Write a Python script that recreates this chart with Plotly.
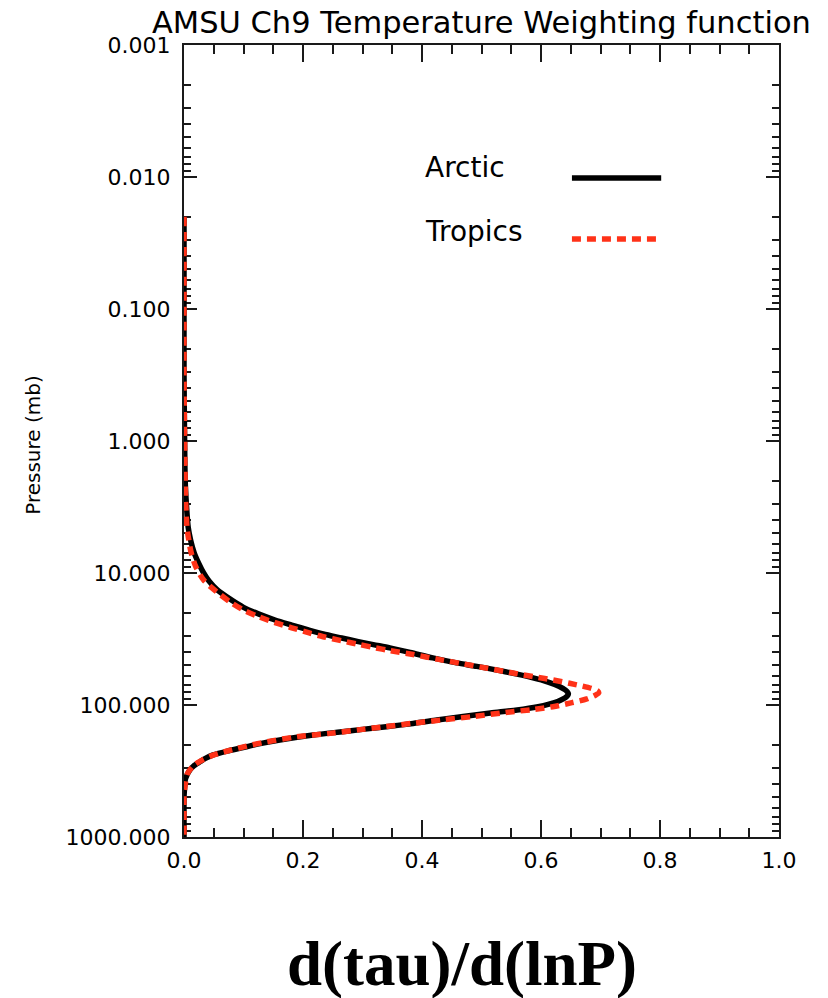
import plotly.graph_objects as go

# Channel 9 temperature weighting functions, d(tau)/d(lnP) versus pressure (mb)
arctic_p = [0.02, 0.05, 0.1, 0.3, 1.0, 2.0, 3.0, 4.5, 5.6, 7.0, 8.5, 10.0, 11.5,
            13.3, 15.7, 18.2, 20.4, 22.7, 24.8, 27.0, 29.0, 31.1, 33.1, 34.9,
            36.9, 40.0, 44.0, 48.0, 51.0, 56.0, 62.0, 67.0, 72.0, 77.0, 82.0,
            88.0, 94.0, 99.0, 103.0, 109.0, 115.0, 122.0, 130.0, 138.0, 146.0,
            153.0, 160.0, 169.0, 184.0, 196.0, 207.0, 222.0, 239.0, 254.0, 269.0,
            290.0, 310.0, 340.0, 370.0, 420.0, 500.0, 650.0, 800.0, 1000.0]
arctic_w = [0.000, 0.000, 0.000, 0.000, 0.001, 0.002, 0.004, 0.007, 0.011, 0.017,
            0.025, 0.033, 0.042, 0.055, 0.077, 0.100, 0.125, 0.153, 0.181, 0.209,
            0.234, 0.265, 0.293, 0.318, 0.346, 0.380, 0.418, 0.458, 0.492, 0.540,
            0.585, 0.612, 0.630, 0.641, 0.646, 0.641, 0.628, 0.612, 0.595, 0.560,
            0.515, 0.469, 0.425, 0.385, 0.340, 0.300, 0.262, 0.217, 0.161, 0.128,
            0.105, 0.075, 0.049, 0.036, 0.027, 0.016, 0.010, 0.005, 0.002, 0.001,
            0.000, 0.000, 0.000, 0.000]

tropics_p = [0.02, 0.05, 0.1, 0.3, 1.0, 2.0, 3.0, 4.5, 5.6, 7.0, 9.0, 11.3, 13.9,
             16.5, 19.1, 21.4, 23.8, 26.0, 28.3, 30.4, 32.6, 34.7, 36.6, 38.7,
             41.5, 45.1, 48.9, 52.7, 57.5, 61.0, 64.6, 68.5, 72.0, 75.0, 78.0,
             81.0, 84.0, 90.0, 96.0, 103.0, 108.0, 114.0, 122.0, 130.0, 138.0,
             146.0, 153.0, 164.0, 174.0, 190.0, 205.0, 219.0, 239.0, 261.0, 285.0,
             330.0, 400.0, 500.0, 650.0, 800.0, 1000.0]
tropics_w = [0.000, 0.000, 0.000, 0.000, 0.001, 0.002, 0.003, 0.005, 0.008, 0.012,
             0.020, 0.033, 0.055, 0.077, 0.100, 0.125, 0.153, 0.181, 0.209, 0.234,
             0.265, 0.293, 0.318, 0.346, 0.385, 0.428, 0.470, 0.510, 0.555, 0.588,
             0.620, 0.648, 0.670, 0.685, 0.695, 0.697, 0.692, 0.677, 0.652, 0.620,
             0.588, 0.540, 0.488, 0.432, 0.382, 0.338, 0.300, 0.245, 0.190, 0.139,
             0.105, 0.080, 0.050, 0.031, 0.017, 0.006, 0.002, 0.000, 0.000, 0.000,
             0.000]

y_tickvals = [0.001, 0.01, 0.1, 1, 10, 100, 1000]
y_ticktext = ["0.001", "0.010", "0.100", "1.000", "10.000", "100.000", "1000.000"]
x_tickvals = [0.0, 0.2, 0.4, 0.6, 0.8, 1.0]
x_ticktext = ["0.0", "0.2", "0.4", "0.6", "0.8", "1.0"]

BLACK = "#000000"
RED = "#ff3218"
AXIS = "#1a1a1a"
SANS = "DejaVu Sans"

fig = go.Figure()
fig.add_trace(go.Scatter(
    x=arctic_w, y=arctic_p, mode="lines", name="Arctic",
    line=dict(color=BLACK, width=5.5, shape="spline", smoothing=0.8),
))
fig.add_trace(go.Scatter(
    x=tropics_w, y=tropics_p, mode="lines", name="Tropics",
    line=dict(color=RED, width=5.5, dash="9px,6px", shape="spline", smoothing=0.8),
))

fig.update_layout(
    width=828, height=998,
    margin=dict(l=184, r=49, t=45, b=161),
    paper_bgcolor="white", plot_bgcolor="white",
    showlegend=False,
    font=dict(family=SANS, color="black"),
    xaxis=dict(
        range=[0, 1], tickvals=x_tickvals, ticktext=x_ticktext,
        ticks="inside", ticklen=17, tickwidth=2, tickcolor=AXIS,
        showline=True, linewidth=2, linecolor=AXIS, mirror="ticks",
        showgrid=False, zeroline=False, layer="below traces",
        tickfont=dict(family=SANS, size=22, color="black"),
        ticklabelstandoff=3,
        minor=dict(dtick=0.05, ticks="inside", ticklen=9, tickwidth=2,
                   tickcolor=AXIS, showgrid=False),
    ),
    yaxis=dict(
        type="log", range=[3, -3], autorange=False,
        tickvals=y_tickvals, ticktext=y_ticktext,
        ticks="inside", ticklen=13, tickwidth=2, tickcolor=AXIS,
        showline=True, linewidth=2, linecolor=AXIS, mirror="ticks",
        showgrid=False, zeroline=False, layer="below traces",
        tickfont=dict(family=SANS, size=22, color="black"),
        ticklabelstandoff=7,
        minor=dict(dtick="D1", ticks="inside", ticklen=7, tickwidth=2,
                   tickcolor=AXIS, showgrid=False),
    ),
)

# Title, axis labels
fig.add_annotation(
    text="AMSU Ch9 Temperature Weighting function",
    xref="paper", yref="paper", x=0.50, y=1.029,
    xanchor="center", yanchor="middle", showarrow=False,
    font=dict(family=SANS, size=30.5, color="black"),
)
fig.add_annotation(
    text="Pressure (mb)", textangle=-90,
    xref="paper", yref="paper", x=-0.254, y=0.495,
    xanchor="center", yanchor="middle", showarrow=False,
    font=dict(family=SANS, size=20, color="black"),
)
fig.add_annotation(
    text="<b>d(tau)/d(lnP)</b>",
    xref="paper", yref="paper", x=0.467, y=-0.1604,
    xanchor="center", yanchor="middle", showarrow=False,
    font=dict(family="Liberation Serif", size=63, color="black"),
)

# Legend: label on the left, line sample on the right
legend_rows = [("Arctic", BLACK, "solid", 0.845, 0.832),
               ("Tropics", RED, "9px,6px", 0.765, 0.755)]
for label, color, dash, ty, ly in legend_rows:
    fig.add_annotation(
        text=label, xref="paper", yref="paper", x=0.402, y=ty,
        xanchor="left", yanchor="middle", showarrow=False,
        font=dict(family=SANS, size=28, color="black"),
    )
    fig.add_shape(
        type="line", xref="paper", yref="paper",
        x0=0.652, x1=0.802, y0=ly, y1=ly,
        line=dict(color=color, width=5.5, dash=dash),
    )

fig.write_html("out.html")
